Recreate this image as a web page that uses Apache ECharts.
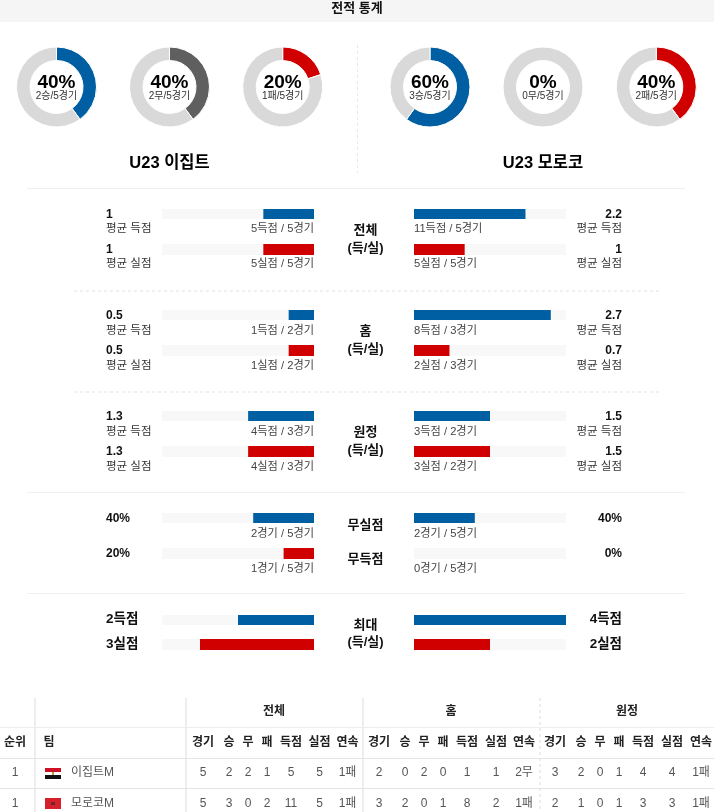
<!DOCTYPE html>
<html lang="ko">
<head>
    <meta charset="UTF-8">
    <title>전적 통계</title>
    <script src="https://cdn.jsdelivr.net/npm/echarts@6/dist/echarts.min.js"></script>
    <style>
        body, html { margin: 0; padding: 0; background: #fff; overflow: hidden; }
        #main { width: 714px; height: 812px; }
    </style>
</head>
<body>
    <div id="main"></div>
    <script>
        // 데이터
        const gamesPlayed = 5;
        const recordNames = ['승', '무', '패'];
        const egyptRecord = [2, 2, 1];
        const moroccoRecord = [3, 0, 2];
        const teamNames = ['U23 이집트', 'U23 모로코'];

        const egyptValues = [1, 1, 0.5, 0.5, 1.3, 1.3, 40, 20, 2, 3];
        const moroccoValues = [2.2, 1, 2.7, 0.7, 1.5, 1.5, 40, 0, 4, 2];
        const axisMax = [3, 3, 3, 3, 3, 3, 100, 100, 4, 4];
        const egyptLabels = ['1', '1', '0.5', '0.5', '1.3', '1.3', '40%', '20%', '2득점', '3실점'];
        const moroccoLabels = ['2.2', '1', '2.7', '0.7', '1.5', '1.5', '40%', '0%', '4득점', '2실점'];
        const subLabels = ['평균 득점', '평균 실점', '평균 득점', '평균 실점', '평균 득점', '평균 실점', '', '', '', ''];
        const egyptCaptions = ['5득점 / 5경기', '5실점 / 5경기', '1득점 / 2경기', '1실점 / 2경기', '4득점 / 3경기', '4실점 / 3경기', '2경기 / 5경기', '1경기 / 5경기', '', ''];
        const moroccoCaptions = ['11득점 / 5경기', '5실점 / 5경기', '8득점 / 3경기', '2실점 / 3경기', '3득점 / 2경기', '3실점 / 2경기', '2경기 / 5경기', '0경기 / 5경기', '', ''];

        const tableGroups = ['전체', '홈', '원정'];
        const tableColumns = ['경기', '승', '무', '패', '득점', '실점', '연속'];
        const egyptRow = [5, 2, 2, 1, 5, 5, '1패', 2, 0, 2, 0, 1, 1, '2무', 3, 2, 0, 1, 4, 4, '1패'];
        const moroccoRow = [5, 3, 0, 2, 11, 5, '1패', 3, 2, 0, 1, 8, 2, '1패', 2, 1, 0, 1, 3, 3, '1패'];

        // 레이아웃
        const FONT = '"Liberation Sans", "Noto Sans CJK KR", sans-serif';
        const BLUE = '#005ea2', RED = '#d10000', GREY = '#5f5f5f', RING = '#d9d9d9';
        const barTops = [209, 244, 310, 345, 411, 446, 513, 548, 615, 639];
        const barHeights = [10, 11, 10, 11, 10, 11, 10, 11, 10, 11];
        const valueY = [213, 248, 314, 349, 415, 450, 517, 552, 618, 643];
        const captionY = [228, 263, 330, 365, 431, 466, 533, 568];
        const donutX = [[56.5, 169.5, 282.7], [430, 543, 656.3]];
        const columnX = [203, 229, 248, 267, 291, 319.5, 347.5,
                         379, 405, 424, 443, 467, 496, 524,
                         555, 581, 600, 619, 643, 672, 701];
        const middleLabels = [
            ['전체', 229], ['(득/실)', 247], ['홈', 330], ['(득/실)', 348], ['원정', 431], ['(득/실)', 449],
            ['무실점', 524], ['무득점', 558], ['최대', 624], ['(득/실)', 641]
        ];

        function text(str, x, y, size, opts) {
            opts = opts || {};
            return {
                type: 'text', z: 20, silent: true,
                style: {
                    text: String(str), x: x, y: y + 1.5,
                    font: (opts.bold ? 'bold ' : '') + size + 'px ' + FONT,
                    fill: opts.color || '#111',
                    textAlign: opts.align || 'center',
                    textVerticalAlign: 'middle'
                }
            };
        }
        function rect(x, y, w, h, color) {
            return { type: 'rect', z: 1, silent: true, shape: { x: x, y: y, width: w, height: h }, style: { fill: color } };
        }
        function line(x1, y1, x2, y2, color, width, dash) {
            return {
                type: 'line', z: 1, silent: true,
                shape: { x1: x1, y1: y1, x2: x2, y2: y2 },
                style: { stroke: color, lineWidth: width, lineDash: dash || null }
            };
        }

        const grid = [], xAxis = [], yAxis = [], series = [], graphic = [];

        // 도넛
        [egyptRecord, moroccoRecord].forEach(function (record, t) {
            record.forEach(function (count, i) {
                const color = i === 0 ? BLUE : i === 1 ? GREY : RED;
                series.push({
                    type: 'pie', silent: true, animation: false,
                    center: [donutX[t][i], 87], radius: [26.5, 40],
                    startAngle: 90, clockwise: true,
                    label: { show: false }, labelLine: { show: false },
                    itemStyle: { borderColor: '#fff', borderWidth: 1 },
                    data: [
                        { value: count, itemStyle: { color: color } },
                        { value: gamesPlayed - count, itemStyle: { color: RING } }
                    ]
                });
                const pct = Math.round(count / gamesPlayed * 100) + '%';
                graphic.push(text(pct, donutX[t][i], 81.5, 19, { bold: true, color: '#000' }));
                graphic.push(text(count + recordNames[i] + '/' + gamesPlayed + '경기', donutX[t][i], 94.5, 10, { color: '#333' }));
            });
        });

        // 막대
        function addBar(values, i, left, inverse) {
            const idx = grid.length;
            grid.push({ left: left, top: barTops[i], width: 152, height: barHeights[i] });
            xAxis.push({ type: 'value', gridIndex: idx, min: 0, max: axisMax[i], inverse: inverse, show: false });
            yAxis.push({ type: 'category', gridIndex: idx, data: [subLabels[i] || String(i)], show: false });
            series.push({
                type: 'bar', xAxisIndex: idx, yAxisIndex: idx, silent: true, animation: false,
                barWidth: '100%',
                showBackground: true,
                backgroundStyle: { color: '#f8f8f8' },
                itemStyle: { color: i % 2 === 0 ? BLUE : RED },
                data: [values[i]]
            });
        }
        egyptValues.forEach(function (v, i) {
            addBar(egyptValues, i, 162, true);
            addBar(moroccoValues, i, 414, false);
            const big = i >= 8 ? 13.5 : 12;
            graphic.push(text(egyptLabels[i], 106, valueY[i], big, { bold: true, align: 'left' }));
            graphic.push(text(moroccoLabels[i], 622, valueY[i], big, { bold: true, align: 'right' }));
            if (subLabels[i]) {
                graphic.push(text(subLabels[i], 106, captionY[i] - 1, 11.5, { align: 'left', color: '#333' }));
                graphic.push(text(subLabels[i], 622, captionY[i] - 1, 11.5, { align: 'right', color: '#333' }));
            }
            if (egyptCaptions[i]) {
                graphic.push(text(egyptCaptions[i], 314, captionY[i] - 1, 11.2, { align: 'right', color: '#444' }));
                graphic.push(text(moroccoCaptions[i], 414, captionY[i] - 1, 11.2, { align: 'left', color: '#444' }));
            }
        });
        middleLabels.forEach(function (m) {
            graphic.push(text(m[0], 365.5, m[1] - 0.5, 13, { bold: true }));
        });

        // 머리글, 구분선
        graphic.push(rect(0, 0, 714, 22, '#f5f5f5'));
        graphic.push(text('전적 통계', 357, 6.5, 13, { bold: true }));
        graphic.push(line(357.5, 45, 357.5, 173, '#e8e8e8', 1, [3, 3]));
        graphic.push(text(teamNames[0], 169.5, 161.5, 16.5, { bold: true, color: '#000' }));
        graphic.push(text(teamNames[1], 543, 161.5, 16.5, { bold: true, color: '#000' }));
        graphic.push(line(27, 188.5, 685, 188.5, '#eeeeee', 1));
        graphic.push(line(74, 291, 662, 291, '#f0f0f0', 2, [3, 3]));
        graphic.push(line(74, 392, 662, 392, '#f0f0f0', 2, [3, 3]));
        graphic.push(line(27, 492.5, 685, 492.5, '#f0f0f0', 1));
        graphic.push(line(27, 593.5, 685, 593.5, '#f0f0f0', 1));

        // 순위표
        graphic.push(line(35, 698, 35, 812, '#eeeeee', 2));
        graphic.push(line(186, 698, 186, 812, '#eeeeee', 2));
        graphic.push(line(363, 698, 363, 812, '#eeeeee', 2));
        graphic.push(line(540, 698, 540, 812, '#eeeeee', 2, [3, 3]));
        graphic.push(line(0, 727.5, 714, 727.5, '#eeeeee', 1));
        graphic.push(line(0, 758.5, 714, 758.5, '#e4e4e4', 1));
        graphic.push(line(0, 788.5, 714, 788.5, '#e4e4e4', 1));
        graphic.push(text('순위', 15, 741, 12, { bold: true, color: '#222' }));
        graphic.push(text('팀', 49, 741, 12, { bold: true, color: '#222' }));
        tableGroups.forEach(function (g, i) {
            graphic.push(text(g, columnX[i * 7 + 3] + [7, 8, 8][i], 710, 12, { bold: true, color: '#222' }));
            tableColumns.forEach(function (c, j) {
                graphic.push(text(c, columnX[i * 7 + j], 741, 12, { bold: true, color: '#222' }));
            });
        });
        [[egyptRow, '이집트M', 771.5], [moroccoRow, '모로코M', 802.5]].forEach(function (r) {
            graphic.push(text('1', 15, r[2], 12, { color: '#555' }));
            graphic.push(text(r[1], 71, r[2], 12, { align: 'left', color: '#555' }));
            r[0].forEach(function (v, j) {
                graphic.push(text(v, columnX[j], r[2], 12, { color: '#555' }));
            });
        });
        // 국기
        graphic.push(rect(45, 768, 16, 4, '#ce1126'));
        graphic.push(rect(45, 772, 16, 3, '#ffffff'));
        graphic.push(rect(45, 775, 16, 4, '#111111'));
        graphic.push(rect(52, 772, 2, 3, '#b8a040'));
        graphic.push(rect(45, 798, 16, 11, '#d8202c'));
        graphic.push(rect(51, 802, 4, 3, '#6a2a20'));

        const myChart = echarts.init(document.getElementById('main'));
        myChart.setOption({
            animation: false,
            backgroundColor: '#fff',
            grid: grid, xAxis: xAxis, yAxis: yAxis,
            series: series,
            graphic: graphic
        });
    </script>
</body>
</html>
